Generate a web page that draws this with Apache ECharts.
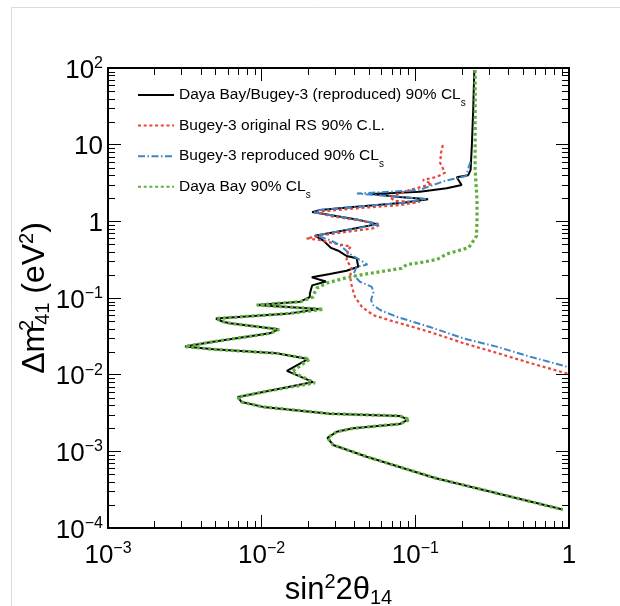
<!DOCTYPE html>
<html>
<head>
<meta charset="utf-8">
<script src="https://cdn.jsdelivr.net/npm/echarts@6/dist/echarts.min.js"></script>
<style>
html, body { margin: 0; padding: 0; background: #fff; }
#chart { width: 620px; height: 606px; }
</style>
</head>
<body>
<div id="chart"></div>
<script>
// sin^2(2theta14) vs dm2_41 exclusion contours
const combinedCLs = [
  [0.242, 94], [0.238, 28], [0.233, 9.4], [0.229, 4.7], [0.221, 4.0], [0.186, 3.75],
  [0.200, 2.98], [0.160, 2.70], [0.107, 2.43], [0.052, 2.27], [0.079, 2.08], [0.121, 1.94],
  [0.0835, 1.75], [0.0415, 1.55], [0.024, 1.41], [0.0213, 1.32], [0.0278, 1.21], [0.0415, 1.06],
  [0.0563, 0.92], [0.0357, 0.77], [0.0222, 0.65], [0.0252, 0.56], [0.0283, 0.45], [0.0315, 0.414],
  [0.0357, 0.353], [0.0415, 0.33], [0.0425, 0.256], [0.0357, 0.227], [0.0278, 0.206], [0.0212, 0.186],
  [0.0262, 0.164], [0.0213, 0.146], [0.0206, 0.1145], [0.0206, 0.103], [0.0178, 0.0895], [0.0093, 0.081],
  [0.0235, 0.072], [0.0153, 0.063], [0.00504, 0.054], [0.0056, 0.049], [0.0062, 0.0468], [0.0128, 0.039],
  [0.0113, 0.0346], [0.00484, 0.0269], [0.00317, 0.0233], [0.00484, 0.0214], [0.0125, 0.019], [0.020, 0.016],
  [0.0146, 0.0112], [0.0216, 0.0080], [0.0119, 0.0063], [0.0070, 0.0051], [0.0074, 0.0044], [0.0102, 0.0038],
  [0.0278, 0.0031], [0.079, 0.0029], [0.0896, 0.0026], [0.079, 0.00227], [0.0395, 0.0020], [0.0308, 0.0018],
  [0.0268, 0.0015], [0.0292, 0.00121], [0.0483, 0.00085], [0.134, 0.00045], [0.91, 0.000174]
];
const bugeyOriginal = [
  [0.151, 9.9], [0.147, 7.8], [0.145, 5.8], [0.156, 4.3], [0.138, 3.8], [0.112, 3.46],
  [0.128, 3.07], [0.092, 2.56], [0.068, 2.08], [0.074, 1.84], [0.107, 1.79], [0.079, 1.63],
  [0.0417, 1.48], [0.0228, 1.335], [0.0278, 1.17], [0.0417, 1.04], [0.059, 0.91], [0.053, 0.81],
  [0.0251, 0.663], [0.0196, 0.60], [0.024, 0.57], [0.0308, 0.506], [0.0381, 0.47], [0.0365, 0.423],
  [0.0357, 0.313], [0.0385, 0.244], [0.0376, 0.188], [0.0387, 0.139], [0.0405, 0.103], [0.045, 0.0763],
  [0.053, 0.060], [0.0684, 0.051], [0.0966, 0.0418], [0.1246, 0.036], [0.204, 0.0259], [0.34, 0.0192],
  [0.557, 0.0142], [1.0, 0.0102]
];
const bugeyReproduced = [
  [0.228, 6.0], [0.214, 3.9], [0.158, 3.4], [0.105, 2.55], [0.0417, 2.30], [0.079, 2.1],
  [0.117, 1.95], [0.0835, 1.75], [0.0415, 1.55], [0.024, 1.41], [0.0215, 1.32], [0.0278, 1.21],
  [0.0415, 1.06], [0.0585, 0.92], [0.0357, 0.77], [0.0225, 0.655], [0.0278, 0.57], [0.0323, 0.49],
  [0.0376, 0.375], [0.0436, 0.313], [0.0488, 0.273], [0.0415, 0.256], [0.0395, 0.20], [0.0436, 0.163],
  [0.052, 0.14], [0.0534, 0.12], [0.0515, 0.094], [0.0534, 0.080], [0.059, 0.0697], [0.0756, 0.057],
  [0.1246, 0.0418], [0.205, 0.0298], [0.338, 0.0232], [0.557, 0.0172], [0.97, 0.0127]
];
const dayaBayCLs = [
  [0.245, 94], [0.245, 4.7], [0.252, 1.9], [0.252, 1.04], [0.25, 0.64], [0.223, 0.455],
  [0.160, 0.375], [0.138, 0.318], [0.107, 0.289], [0.088, 0.273], [0.0815, 0.244], [0.059, 0.22],
  [0.0457, 0.2025], [0.0359, 0.185], [0.0266, 0.157], [0.0229, 0.135], [0.0219, 0.113], [0.0216, 0.103],
  [0.0178, 0.0895], [0.0093, 0.081], [0.0252, 0.0712], [0.0153, 0.063], [0.00504, 0.054], [0.0056, 0.049],
  [0.0062, 0.0468], [0.0130, 0.039], [0.0113, 0.0346], [0.00484, 0.0269], [0.00317, 0.0233], [0.00484, 0.0214],
  [0.0125, 0.019], [0.0205, 0.016], [0.0157, 0.0109], [0.0222, 0.0078], [0.0119, 0.0063], [0.0070, 0.0051],
  [0.0074, 0.0044], [0.0102, 0.0038], [0.0278, 0.0031], [0.079, 0.0029], [0.092, 0.0026], [0.079, 0.00227],
  [0.0395, 0.0020], [0.0308, 0.0018], [0.0268, 0.0015], [0.0292, 0.00121], [0.0483, 0.00085], [0.134, 0.00045],
  [0.91, 0.000174]
];

const seriesNames = [
  'Daya Bay/Bugey-3 (reproduced) 90% CLs',
  'Bugey-3 original RS 90% C.L.',
  'Bugey-3 reproduced 90% CLs',
  'Daya Bay 90% CLs'
];
const legendLabels = [
  'Daya Bay/Bugey-3 (reproduced) 90% CL{s|s}',
  'Bugey-3 original RS 90% C.L.',
  'Bugey-3 reproduced 90% CL{s|s}',
  'Daya Bay 90% CL{s|s}'
];

const xTickValues = [0.001, 0.01, 0.1, 1];
const xTickLabels = ['{b|10}{s|\u22123}', '{b|10}{s|\u22122}', '{b|10}{s|\u22121}', '{b|1}'];
const yTickValues = [0.0001, 0.001, 0.01, 0.1, 1, 10, 100];
const yTickLabels = ['{b|10}{s|\u22124}', '{b|10}{s|\u22123}', '{b|10}{s|\u22122}', '{b|10}{s|\u22121}', '{b|1}', '{b|10}', '{b|10}{s|2}'];

const minorMultipliers = [2, 3, 4, 5, 6, 7, 8, 9];
const xDecades = [0.001, 0.01, 0.1];
const yDecades = [0.0001, 0.001, 0.01, 0.1, 1, 10];

const X_MIN = 0.001, X_MAX = 1, Y_MIN = 0.0001, Y_MAX = 100;
const FONT = 'Liberation Sans, Arial, Helvetica, sans-serif';
const MAJOR_LEN = 13, MINOR_LEN = 7;

const minorTicks = [];
xDecades.forEach(d => minorMultipliers.forEach(m => minorTicks.push([m * d, Y_MIN, 0])));
yDecades.forEach(d => minorMultipliers.forEach(m => minorTicks.push([X_MIN, m * d, 1])));

function pickLabel(values, labels, v) {
  for (let i = 0; i < values.length; i++) {
    if (Math.abs(Math.log10(v) - Math.log10(values[i])) < 1e-6) return labels[i];
  }
  return '';
}

function renderMinorTick(params, api) {
  const style = { stroke: '#000', lineWidth: 1 };
  if (api.value(2) === 0) {
    const b = api.coord([api.value(0), Y_MIN]);
    const t = api.coord([api.value(0), Y_MAX]);
    const x = Math.round(b[0]) + 0.5;
    return { type: 'group', children: [
      { type: 'line', shape: { x1: x, y1: b[1], x2: x, y2: b[1] - MINOR_LEN }, style: style },
      { type: 'line', shape: { x1: x, y1: t[1], x2: x, y2: t[1] + MINOR_LEN }, style: style }
    ] };
  }
  const l = api.coord([X_MIN, api.value(1)]);
  const r = api.coord([X_MAX, api.value(1)]);
  const y = Math.round(l[1]) + 0.5;
  return { type: 'group', children: [
    { type: 'line', shape: { x1: l[0], y1: y, x2: l[0] + MINOR_LEN, y2: y }, style: style },
    { type: 'line', shape: { x1: r[0], y1: y, x2: r[0] - MINOR_LEN, y2: y }, style: style }
  ] };
}

const tickRich = {
  b: { fontSize: 26, lineHeight: 30, fontFamily: FONT, color: '#000' },
  s: { fontSize: 16, lineHeight: 10, verticalAlign: 'top', fontFamily: FONT, color: '#000' }
};

const frameAxis = {
  axisLine: { show: true, lineStyle: { color: '#000', width: 2 } },
  axisTick: { show: true, inside: true, length: MAJOR_LEN, lineStyle: { color: '#000', width: 1 } },
  splitLine: { show: false },
  minorTick: { show: false }
};

const chart = echarts.init(document.getElementById('chart'));
chart.setOption({
  animation: false,
  backgroundColor: '#fff',
  graphic: [{
    type: 'rect', silent: true, z: -10,
    shape: { x: 11.5, y: 7.5, width: 700, height: 700 },
    style: { fill: 'none', stroke: '#dcdcdc', lineWidth: 1 }
  }],
  grid: { left: 108, right: 51, top: 68, bottom: 78, containLabel: false, outerBoundsMode: 'none' },
  legend: {
    data: seriesNames,
    selectedMode: false,
    orient: 'vertical',
    left: 137,
    top: 82,
    padding: 0,
    itemGap: 4.6,
    itemWidth: 36,
    itemHeight: 10,
    itemStyle: { opacity: 0 },
    formatter: name => legendLabels[seriesNames.indexOf(name)],
    textStyle: {
      fontFamily: FONT, fontSize: 15.5, color: '#000', lineHeight: 26,
      rich: { s: { fontFamily: FONT, fontSize: 10, lineHeight: 2, verticalAlign: 'bottom', color: '#000' } }
    }
  },
  xAxis: [
    Object.assign({}, frameAxis, {
      type: 'log', logBase: 10, min: X_MIN, max: X_MAX, splitNumber: 3, position: 'bottom',
      axisLabel: { margin: 13, formatter: v => pickLabel(xTickValues, xTickLabels, v), rich: tickRich },
      name: 'sin{sup|2}2\u03b8{sub|14}',
      nameLocation: 'middle', nameGap: 44, nameMoveOverlap: false,
      nameTextStyle: {
        fontFamily: FONT, fontSize: 31, color: '#000', lineHeight: 36,
        rich: {
          sup: { fontFamily: FONT, fontSize: 20, lineHeight: 20, verticalAlign: 'top', color: '#000' },
          sub: { fontFamily: FONT, fontSize: 20, lineHeight: 20, verticalAlign: 'bottom', color: '#000' }
        }
      }
    }),
    Object.assign({}, frameAxis, {
      type: 'log', logBase: 10, min: X_MIN, max: X_MAX, splitNumber: 3, position: 'top',
      axisLabel: { show: false }
    })
  ],
  yAxis: [
    Object.assign({}, frameAxis, {
      type: 'log', logBase: 10, min: Y_MIN, max: Y_MAX, splitNumber: 6, position: 'left',
      axisLabel: { margin: 5, padding: [5, 0, 0, 0], formatter: v => pickLabel(yTickValues, yTickLabels, v), rich: tickRich },
      name: '\u0394m{sup|2}{sub|41} (eV{sup2|2})',
      nameLocation: 'middle', nameRotate: 90, nameGap: 55, nameMoveOverlap: false,
      nameTextStyle: {
        fontFamily: FONT, fontSize: 32, color: '#000', lineHeight: 36,
        rich: {
          sup: { fontFamily: FONT, fontSize: 20, lineHeight: 26, width: 1, verticalAlign: 'top', color: '#000' },
          sup2: { fontFamily: FONT, fontSize: 20, lineHeight: 20, verticalAlign: 'top', color: '#000' },
          sub: { fontFamily: FONT, fontSize: 20, lineHeight: 18, verticalAlign: 'bottom', color: '#000' }
        }
      }
    }),
    Object.assign({}, frameAxis, {
      type: 'log', logBase: 10, min: Y_MIN, max: Y_MAX, splitNumber: 6, position: 'right',
      axisLabel: { show: false }
    })
  ],
  series: [
    {
      name: seriesNames[0], type: 'line', data: combinedCLs, symbol: 'none', smooth: false,
      lineStyle: { color: '#000', width: 2, type: 'solid' }, itemStyle: { color: '#000' }
    },
    {
      name: seriesNames[1], type: 'line', data: bugeyOriginal, symbol: 'none', smooth: false,
      lineStyle: { color: '#e8453c', width: 2.2, type: [3, 2.7] }, itemStyle: { color: '#e8453c' }
    },
    {
      name: seriesNames[2], type: 'line', data: bugeyReproduced, symbol: 'none', smooth: false,
      lineStyle: { color: '#3d86c6', width: 2, type: [7, 2.5, 1.5, 2.5] }, itemStyle: { color: '#3d86c6' }
    },
    {
      name: seriesNames[3], type: 'line', data: dayaBayCLs, symbol: 'none', smooth: false,
      lineStyle: { color: '#5fae3e', width: 3.2, type: [3, 2.7] }, itemStyle: { color: '#5fae3e' }
    },
    {
      type: 'custom', data: minorTicks, renderItem: renderMinorTick, silent: true, z: 5
    }
  ]
});
</script>
</body>
</html>
